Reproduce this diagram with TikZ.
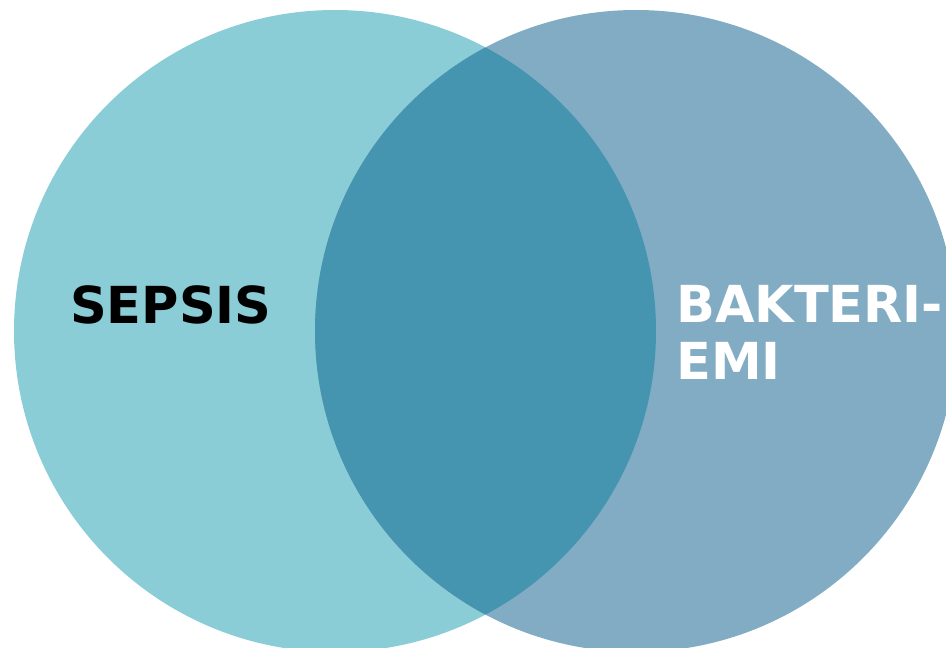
\documentclass[tikz,border=0pt]{standalone}
\usepackage{fontspec}
\setmainfont{DejaVu Sans}
\definecolor{leftc}{HTML}{8BCDD6}
\definecolor{rightc}{HTML}{81ACC3}
\definecolor{midc}{HTML}{4594B0}
\begin{document}
\begin{tikzpicture}[x=1pt,y=-1pt,
  lbl/.style={inner sep=0pt,anchor=base west,font=\bfseries\fontsize{51}{57}\selectfont,align=left}]
\useasboundingbox (0,0) rectangle (946,648);
\begin{scope}
\clip (0,0) rectangle (946,648);
\fill[leftc] (335,331) circle[radius=321];
\fill[rightc] (636,331) circle[radius=321];
\begin{scope}
\clip (335,331) circle[radius=321];
\fill[midc] (636,331) circle[radius=321];
\end{scope}
\end{scope}
\node[lbl,text=black] (sepsis) at (70,323) {SEPSIS};
\node[lbl,text=white,anchor=north west] (bakt) at (676,285) {BAKTERI-\\EMI};
\end{tikzpicture}
\end{document}
